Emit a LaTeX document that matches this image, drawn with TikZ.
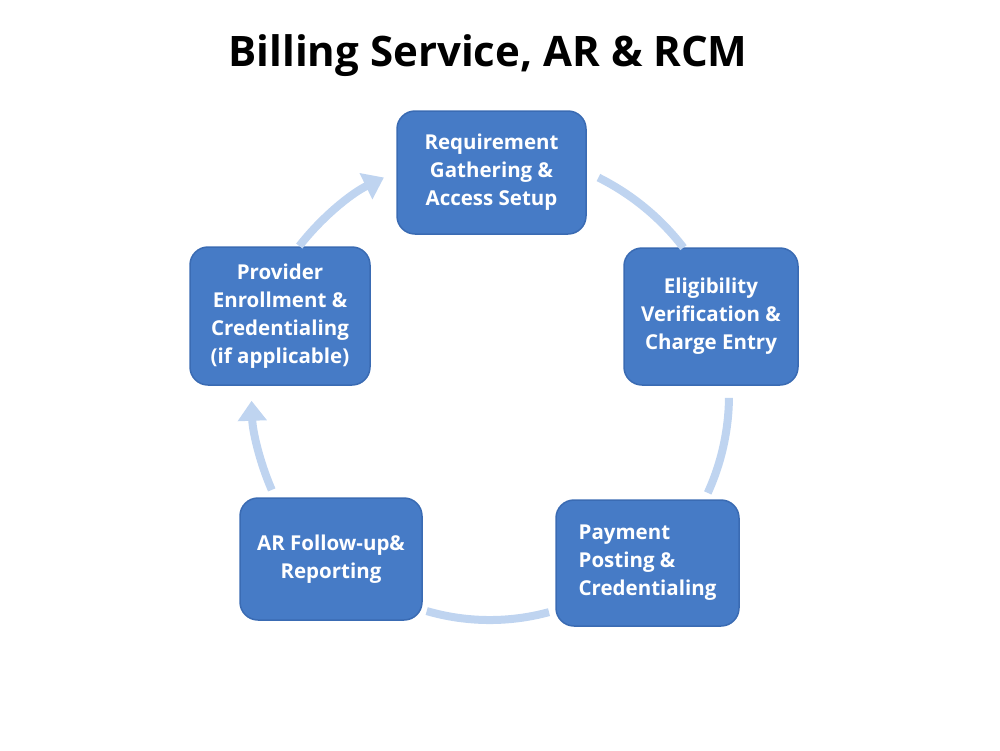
\documentclass[tikz,border=0pt]{standalone}
\usepackage{fontspec}
\setmainfont{Open Sans}
\usetikzlibrary{arrows.meta}
\definecolor{boxblue}{HTML}{467BC6}
\definecolor{boxedge}{HTML}{3A6BB3}
\definecolor{ringblue}{HTML}{BFD4F0}

\begin{document}
\begin{tikzpicture}[x=1pt,y=-1pt]
  \tikzstyle{stage} = [draw=boxedge, line width=1.5pt, fill=boxblue, rounded corners=18pt,
    text=white, font=\fontsize{20.5}{28}\selectfont\bfseries, align=center]
  \tikzstyle{ring} = [draw=ringblue, line width=8pt]
  \tikzstyle{ringarrow} = [ring, -{Triangle[length=20pt,width=28pt]}]
  \useasboundingbox (0,0) rectangle (1000,750);

  \node[font=\fontsize{42}{48}\selectfont\bfseries] (title) at (488,56) {Billing Service, AR \& RCM};
  \coordinate (hub) at (490,395);

  \node[stage, minimum width=189pt, minimum height=123pt] (req) at (491.5,172.5)
    {Requirement\\Gathering \&\\Access Setup};
  \node[stage, minimum width=174pt, minimum height=137pt] (elig) at (711,316.5)
    {Eligibility\\Verification \&\\Charge Entry};
  \node[stage, minimum width=183pt, minimum height=126pt, align=left] (pay) at (647.5,563)
    {Payment\\Posting \&\\Credentialing};
  \node[stage, minimum width=182pt, minimum height=122pt] (arf) at (331,559)
    {AR Follow-up\&\\Reporting};
  \node[stage, minimum width=180pt, minimum height=138pt] (prov) at (280,316)
    {Provider\\Enrollment \&\\Credentialing\\(if applicable)};

  % ring segments between the stages
  \draw[ringarrow] ([shift={(218:242)}]hub) arc[start angle=218, end angle=244, radius=242];
  \draw[ring] ([shift={(296.5:243)}]hub) arc[start angle=296.5, end angle=322.5, radius=245];
  \draw[ring] ([shift={(0.7:239)}]hub) arc[start angle=0.7, end angle=24.5, radius=236];
  \draw[ring] ([shift={(74.8:225)}]hub) arc[start angle=74.8, end angle=106.2, radius=226];
  \draw[ringarrow] ([shift={(156.5:238)}]hub) arc[start angle=156.5, end angle=178, radius=245];
\end{tikzpicture}
\end{document}
